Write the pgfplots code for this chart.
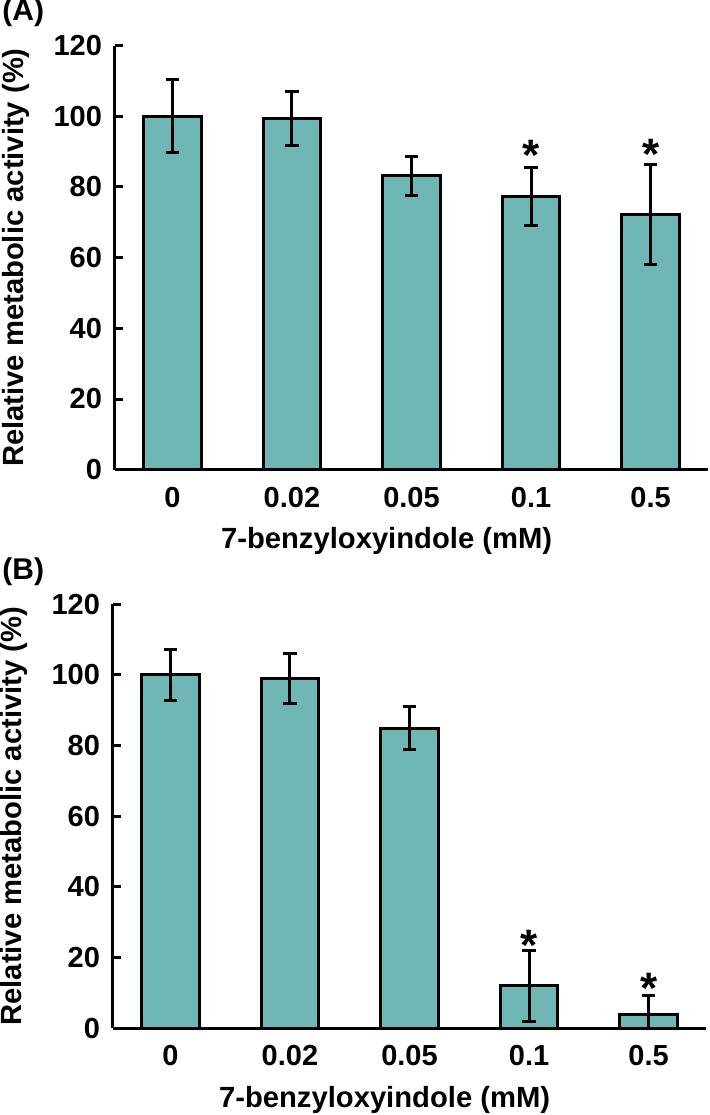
\documentclass[border=0pt]{standalone}
\usepackage{fontspec}
\setmainfont{Liberation Sans}
\usepackage{pgfplots}
\pgfplotsset{compat=1.18}
\usepackage{pgfplotstable}
\definecolor{barfill}{RGB}{111,183,180}

\pgfplotstableread{
x y e
0 100.0 10.3
1 99.3 7.7
2 83.2 5.5
3 77.2 8.2
4 72.2 14.1
}\dataA
\pgfplotstableread{
x y e
0 100.0 7.2
1 99.0 7.0
2 84.9 6.0
3 12.0 10.0
4 3.8 5.6
}\dataB

\pgfplotsset{
 panel/.style={
  scale only axis, width=296.5pt, height=212.1pt,
  xmin=-0.48, xmax=4.48, ymin=0, ymax=120,
  axis x line*=bottom, axis y line*=left,
  axis line style={line width=1.5pt},
  xtick={0,1,2,3,4}, xticklabels={0,0.02,0.05,0.1,0.5},
  x tick style={draw=none},
  ytick={0,20,...,120},
  y tick style={line width=1.5pt, black},
  tick align=inside, major tick length=4pt,
  ticklabel style={font=\fontsize{14.5}{16}\selectfont\bfseries},
  /pgf/number format/assume math mode=true,
  xticklabel style={anchor=base, yshift=-18.75pt},
  yticklabel style={xshift=-3pt},
  xlabel={7-benzyloxyindole (mM)},
  ylabel={Relative metabolic activity (\%)},
  label style={font=\fontsize{14.6}{17}\selectfont\bfseries, inner sep=0pt},
  xlabel style={at={(axis description cs:0.458,0)}, anchor=base, yshift=-39.5pt},
  ylabel style={at={(axis description cs:-0.167,0.5)}, anchor=center},
 },
 bars/.style={ybar, bar width=28.8pt, fill=barfill, draw=black, line width=1.5pt,
  error bars/.cd, y dir=both, y explicit,
  error bar style={line width=1.5pt, black},
  error mark options={rotate=90, mark size=3.4pt, line width=1.5pt, black}},
 stars/.style={draw=none, mark=none, nodes near coords={*},
  every node near coord/.append style={anchor=base, text=black, inner sep=0pt,
   font=\fontsize{22}{22}\selectfont\bfseries}},
}

\begin{document}
\begin{tikzpicture}
\useasboundingbox (-57.5pt,-322.65pt) rectangle (297pt,234.85pt);
\node[anchor=base west, font=\fontsize{15}{17}\selectfont\bfseries, inner sep=0pt] at (-56.5pt,224.5pt) {(A)};
\node[anchor=base west, font=\fontsize{15}{17}\selectfont\bfseries, inner sep=0pt] at (-56.5pt,-54.8pt) {(B)};
\begin{axis}[panel, at={(0pt,0pt)}, anchor=south west]
\addplot[bars] table[x=x, y=y, y error=e] {\dataA};
\addplot[stars] coordinates {(3,84.5) (4,85.0)};
\end{axis}
\begin{axis}[panel, at={(-1pt,-279.3pt)}, anchor=south west]
\addplot[bars] table[x=x, y=y, y error=e] {\dataB};
\addplot[stars] coordinates {(3,19.3) (4,7.1)};
\end{axis}
\end{tikzpicture}
\end{document}
